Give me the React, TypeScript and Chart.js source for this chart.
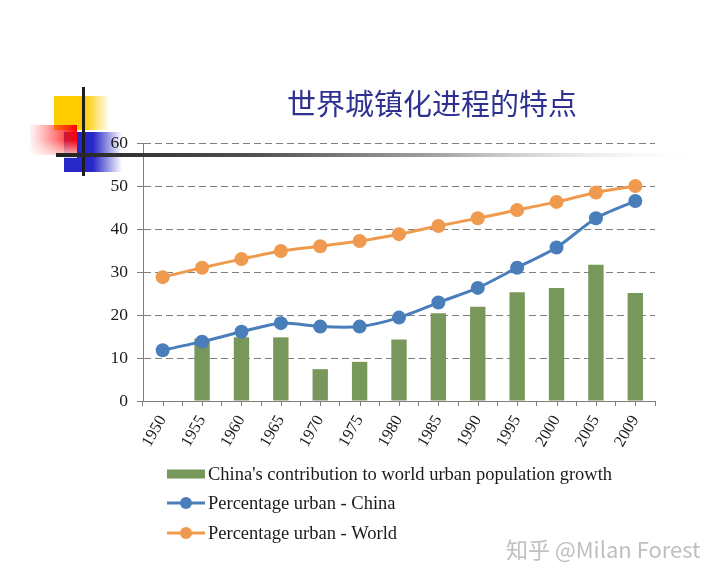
import React, { useEffect, useRef } from "react";
import { Chart, registerables } from "chart.js";

Chart.register(...registerables);

const years = ["1950", "1955", "1960", "1965", "1970", "1975", "1980", "1985", "1990", "1995", "2000", "2005", "2009"];
const chinaContribution = [null, 14.5, 14.8, 14.8, 7.4, 9.1, 14.3, 20.4, 21.9, 25.3, 26.3, 31.7, 25.1];
const urbanChina = [11.8, 13.8, 16.1, 18.1, 17.3, 17.3, 19.4, 22.9, 26.3, 31.0, 35.7, 42.5, 46.5];
const urbanWorld = [28.8, 31.0, 33.0, 34.9, 36.0, 37.2, 38.8, 40.7, 42.5, 44.4, 46.3, 48.5, 50.0];
const seriesLabels = [
  "China's contribution to world urban population growth",
  "Percentage urban - China",
  "Percentage urban - World",
];
const yMin = 0;
const yMax = 60;
const yStep = 10;
const titleText = "世界城镇化进程的特点";
const watermarkText = "知乎 @Milan Forest";

const GREEN = "#77985A";
const BLUE = "#4A7EBB";
const ORANGE = "#EF9A4E";
const GRID = "#7f7f7f";
const SERIF = '"Liberation Serif", "Times New Roman", serif';

const decorBefore = {
  id: "decorBefore",
  beforeDraw(chart: any) {
    const ctx = chart.ctx as CanvasRenderingContext2D;
    ctx.save();
    // yellow square
    let g = ctx.createLinearGradient(54, 0, 110, 0);
    g.addColorStop(0, "rgba(255,204,0,1)");
    g.addColorStop(0.55, "rgba(255,204,0,1)");
    g.addColorStop(1, "rgba(255,204,0,0)");
    ctx.fillStyle = g;
    ctx.fillRect(54, 96, 56, 34);
    // blue square
    g = ctx.createLinearGradient(64, 0, 122, 0);
    g.addColorStop(0, "rgba(40,40,200,1)");
    g.addColorStop(0.5, "rgba(40,40,200,1)");
    g.addColorStop(1, "rgba(40,40,200,0)");
    ctx.fillStyle = g;
    ctx.fillRect(64, 132, 58, 40);
    // red square
    g = ctx.createLinearGradient(30, 0, 77, 0);
    g.addColorStop(0, "rgba(255,60,60,0.05)");
    g.addColorStop(1, "rgba(255,0,0,1)");
    ctx.fillStyle = g;
    ctx.fillRect(30, 125, 47, 30);
    g = ctx.createLinearGradient(0, 140, 0, 158);
    g.addColorStop(0, "rgba(255,255,255,0)");
    g.addColorStop(1, "rgba(255,255,255,0.85)");
    ctx.fillStyle = g;
    ctx.fillRect(30, 140, 47, 18);
    // title
    ctx.font = '29px "Noto Sans CJK SC", sans-serif';
    ctx.fillStyle = "#2E3190";
    ctx.textAlign = "center";
    ctx.textBaseline = "middle";
    ctx.fillText(titleText, 432, 104);
    ctx.restore();
  },
};

const decorAfter = {
  id: "decorAfter",
  afterDraw(chart: any) {
    const ctx = chart.ctx as CanvasRenderingContext2D;
    const { chartArea, scales } = chart;
    ctx.save();
    // vertical black line
    ctx.fillStyle = "#1e1e1e";
    ctx.fillRect(82, 87, 3, 89);
    // horizontal gradient bar
    const g = ctx.createLinearGradient(56, 0, 712, 0);
    g.addColorStop(0, "rgba(35,35,35,1)");
    g.addColorStop(0.3, "rgba(80,80,80,1)");
    g.addColorStop(0.6, "rgba(170,170,170,1)");
    g.addColorStop(1, "rgba(255,255,255,0)");
    ctx.fillStyle = g;
    ctx.fillRect(56, 153, 656, 4);

    // center tick marks on the x axis
    const xs = scales.x;
    ctx.strokeStyle = GRID;
    ctx.lineWidth = 1;
    ctx.beginPath();
    years.forEach((_, i) => {
      const px = Math.round(xs.getPixelForValue(i)) + 0.5;
      ctx.moveTo(px, chartArea.bottom);
      ctx.lineTo(px, chartArea.bottom + 5);
    });
    ctx.stroke();

    // legend
    const x0 = chartArea.left + 24;
    const rows = [73, 102, 132];
    ctx.font = "18.5px " + SERIF;
    ctx.textBaseline = "middle";
    ctx.textAlign = "left";
    chart.data.datasets.forEach((ds: any, i: number) => {
      const y = chartArea.bottom + rows[i];
      if (ds.type === "bar") {
        ctx.fillStyle = ds.backgroundColor;
        ctx.fillRect(x0, y - 4.5, 38, 9);
      } else {
        ctx.strokeStyle = ds.borderColor;
        ctx.lineWidth = 3;
        ctx.beginPath();
        ctx.moveTo(x0, y);
        ctx.lineTo(x0 + 38, y);
        ctx.stroke();
        ctx.fillStyle = ds.borderColor;
        ctx.beginPath();
        ctx.arc(x0 + 19, y, 6, 0, Math.PI * 2);
        ctx.fill();
      }
      ctx.fillStyle = "#1a1a1a";
      ctx.fillText(ds.label, x0 + 41, y + 1);
    });

    // watermark
    ctx.font = '22px "Noto Sans CJK SC", "Noto Sans", sans-serif';
    ctx.fillStyle = "rgba(180,180,180,0.85)";
    ctx.textBaseline = "middle";
    ctx.fillText(watermarkText, 506, 550);
    ctx.restore();
  },
};

export default function App() {
  const ref = useRef<HTMLCanvasElement | null>(null);

  useEffect(() => {
    if (!ref.current) return;
    const chart = new Chart(ref.current, {
      type: "bar",
      data: {
        labels: years,
        datasets: [
          {
            type: "bar",
            label: seriesLabels[0],
            data: chinaContribution as any,
            backgroundColor: GREEN,
            categoryPercentage: 0.39,
            barPercentage: 1,
            order: 3,
          },
          {
            type: "line",
            label: seriesLabels[1],
            data: urbanChina,
            borderColor: BLUE,
            backgroundColor: BLUE,
            borderWidth: 3,
            pointRadius: 7,
            pointBorderWidth: 0,
            pointBackgroundColor: BLUE,
            tension: 0.25,
            order: 1,
          },
          {
            type: "line",
            label: seriesLabels[2],
            data: urbanWorld,
            borderColor: ORANGE,
            backgroundColor: ORANGE,
            borderWidth: 3,
            pointRadius: 7,
            pointBorderWidth: 0,
            pointBackgroundColor: ORANGE,
            tension: 0.25,
            order: 2,
          },
        ] as any,
      },
      options: {
        responsive: false,
        animation: false,
        devicePixelRatio: 1,
        layout: { padding: { left: 0, right: 63, top: 143, bottom: 0 } },
        plugins: {
          legend: { display: false },
          tooltip: { enabled: false },
          title: { display: false },
        },
        scales: {
          x: {
            type: "category",
            offset: true,
            grid: {
              offset: true,
              drawOnChartArea: false,
              drawTicks: true,
              tickLength: 5,
              color: GRID,
            },
            border: { color: GRID, width: 1 },
            ticks: {
              minRotation: 60,
              maxRotation: 60,
              autoSkip: false,
              padding: 6,
              color: "#1a1a1a",
              font: { family: SERIF, size: 16.5 },
            },
            afterFit: (s: any) => {
              s.height = 180;
            },
          },
          y: {
            min: yMin,
            max: yMax,
            ticks: {
              stepSize: yStep,
              padding: 9,
              color: "#1a1a1a",
              font: { family: SERIF, size: 17.5 },
            },
            grid: {
              color: GRID,
              tickLength: 6,
              lineWidth: 1,
            },
            border: { color: GRID, width: 1, dash: [7, 4] },
            afterFit: (s: any) => {
              s.width = 143;
            },
          },
        },
      } as any,
      plugins: [decorBefore, decorAfter],
    });
    return () => chart.destroy();
  }, []);

  return (
    <div style={{ position: "fixed", left: 0, top: 0, width: 718, height: 581, background: "#fff" }}>
      <canvas ref={ref} width={718} height={581} style={{ width: 718, height: 581, display: "block" }} />
    </div>
  );
}
